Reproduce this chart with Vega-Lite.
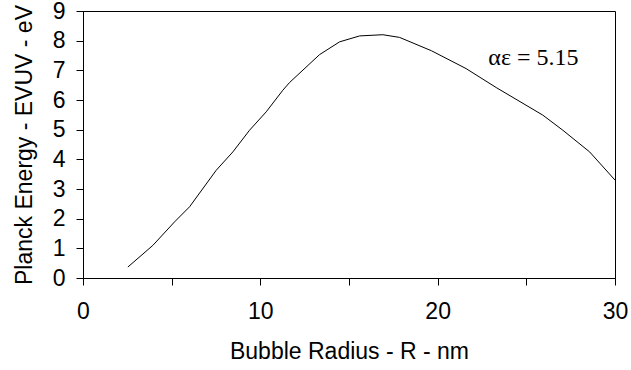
{
  "$schema": "https://vega.github.io/schema/vega-lite/v6.json",
  "autosize": {"type": "none"},
  "width": 532,
  "height": 267,
  "padding": {"left": 83, "top": 11, "right": 16, "bottom": 92},
  "background": "white",
  "config": {
    "view": {"stroke": "black", "strokeWidth": 1},
    "axis": {
      "grid": false,
      "domainColor": "black",
      "tickColor": "black",
      "tickSize": 7,
      "labelFont": "Liberation Sans",
      "labelFontSize": 23,
      "labelColor": "black",
      "titleFont": "Liberation Sans",
      "titleFontSize": 23,
      "titleFontWeight": "normal",
      "titleColor": "black"
    }
  },
  "data": {
    "values": [
      {"R": 2.53, "E": 0.37},
      {"R": 3.94, "E": 1.1},
      {"R": 5.16, "E": 1.89},
      {"R": 6.01, "E": 2.4},
      {"R": 7.51, "E": 3.63},
      {"R": 8.45, "E": 4.25},
      {"R": 9.39, "E": 4.98},
      {"R": 10.33, "E": 5.6},
      {"R": 11.27, "E": 6.33},
      {"R": 11.65, "E": 6.59},
      {"R": 13.34, "E": 7.53},
      {"R": 14.47, "E": 7.96},
      {"R": 15.6, "E": 8.16},
      {"R": 16.91, "E": 8.2},
      {"R": 17.85, "E": 8.11},
      {"R": 19.65, "E": 7.66},
      {"R": 21.6, "E": 7.06},
      {"R": 23.3, "E": 6.42},
      {"R": 25.93, "E": 5.49},
      {"R": 27.06, "E": 4.98},
      {"R": 28.57, "E": 4.25},
      {"R": 30.0, "E": 3.3}
    ]
  },
  "encoding": {
    "x": {
      "field": "R",
      "type": "quantitative",
      "scale": {"domain": [0, 30], "nice": false, "zero": false},
      "axis": {
        "title": "Bubble Radius - R - nm",
        "values": [0, 5, 10, 15, 20, 25, 30],
        "labelExpr": "datum.value % 10 === 0 ? datum.label : ''",
        "labelOverlap": false,
        "labelPadding": 15,
        "titlePadding": 17,
        "labelFlush": false
      }
    },
    "y": {
      "field": "E",
      "type": "quantitative",
      "scale": {"domain": [0, 9], "nice": false},
      "axis": {
        "title": "Planck Energy - EVUV - eV",
        "values": [0, 1, 2, 3, 4, 5, 6, 7, 8, 9],
        "labelOverlap": false,
        "labelPadding": 11,
        "titlePadding": 16,
        "labelFlush": false
      }
    }
  },
  "layer": [
    {
      "mark": {"type": "line", "color": "black", "strokeWidth": 1}
    },
    {
      "data": {"values": [{"R": 25.4, "E": 7.4, "label": "αε = 5.15"}]},
      "mark": {"type": "text", "font": "Liberation Serif", "fontSize": 24, "color": "black", "align": "center", "baseline": "middle"},
      "encoding": {
        "text": {"field": "label"}
      }
    }
  ]
}
